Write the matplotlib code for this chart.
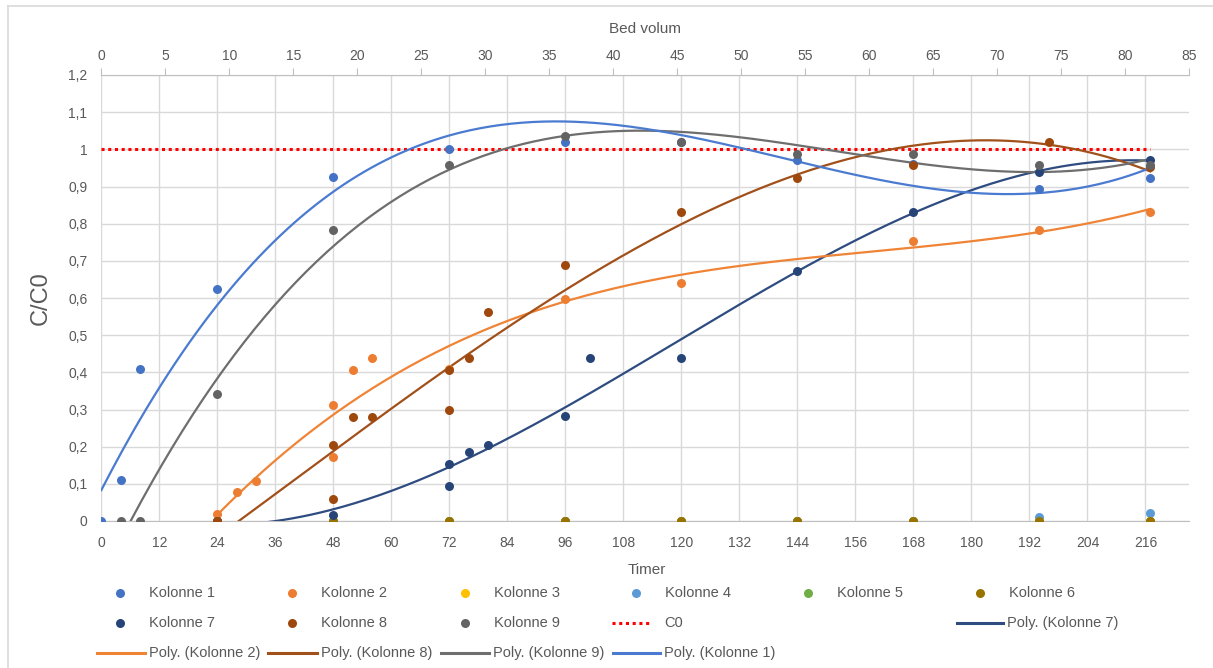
import numpy as np
import matplotlib.pyplot as plt
from matplotlib.lines import Line2D

# Gjennombrudd (C/C0) per kolonne mot tid i timer
k1_t = [0, 4, 8, 24, 48, 72, 96, 120, 144, 168, 194, 217]
k1_c = [0, 0.11, 0.41, 0.625, 0.925, 1.0, 1.02, 1.02, 0.97, 0.96, 0.892, 0.924]

k2_t = [24, 24, 28, 32, 48, 48, 52, 56, 72, 96, 120, 168, 194, 217]
k2_c = [0, 0.02, 0.077, 0.107, 0.172, 0.312, 0.407, 0.438, 0.41, 0.596, 0.64, 0.753, 0.784, 0.831]

zero_t = [24, 48, 72, 96, 120, 144, 168, 194, 217]
k3_c = [0, 0, 0, 0, 0, 0, 0, 0, 0]
k4_c = [0, 0, 0, 0, 0, 0, 0, 0.012, 0.021]
k5_c = [0, 0, 0, 0, 0, 0, 0, 0, 0]
k6_t = [48, 72, 96, 120, 144, 168, 194, 217]
k6_c = [0, 0, 0, 0, 0, 0, 0, 0]

k7_t = [24, 48, 72, 72, 76, 80, 96, 101, 120, 144, 168, 194, 217]
k7_c = [0, 0.015, 0.094, 0.154, 0.186, 0.204, 0.282, 0.438, 0.438, 0.673, 0.831, 0.939, 0.972]

k8_t = [24, 48, 48, 52, 56, 72, 72, 76, 80, 96, 120, 144, 168, 196, 217]
k8_c = [0, 0.058, 0.204, 0.281, 0.281, 0.298, 0.407, 0.438, 0.563, 0.69, 0.831, 0.924, 0.957, 1.02, 0.952]

k9_t = [4, 8, 24, 48, 72, 96, 120, 144, 168, 194, 217]
k9_c = [0, 0, 0.343, 0.784, 0.958, 1.036, 1.02, 0.988, 0.988, 0.959, 0.959]

c0_t = [0, 217]
c0_c = [1, 1]

x_ticks = list(range(0, 217, 12))
bv_ticks = list(range(0, 86, 5))
y_ticks = [round(v * 0.1, 1) for v in range(13)]

farger = {
    1: "#4472C4", 2: "#ED7D31", 3: "#FFC000", 4: "#5B9BD5", 5: "#70AD47",
    6: "#997300", 7: "#264478", 8: "#9E480E", 9: "#636363",
}
trend_farger = {1: "#4A7BD0", 2: "#EF8436", 7: "#2E4C80", 8: "#A2501A", 9: "#6E6E6E"}

W, H = 1213, 668
plt.rcParams["font.family"] = ["Liberation Sans", "DejaVu Sans"]
tekst = "#595959"
grid = "#D9D9D9"

fig = plt.figure(figsize=(W / 100, H / 100), dpi=100)
ax = fig.add_axes([101.3 / W, 1 - 521 / H, (1189 - 101.3) / W, (521 - 75) / H])

serier = [
    (1, k1_t, k1_c), (2, k2_t, k2_c), (3, zero_t, k3_c), (4, zero_t, k4_c),
    (5, zero_t, k5_c), (6, k6_t, k6_c), (7, k7_t, k7_c), (8, k8_t, k8_c), (9, k9_t, k9_c),
]
for nr, t, c in serier:
    ax.scatter(t, c, s=42, color=farger[nr], zorder=4, linewidths=0)

ax.plot(c0_t, c0_c, color="#FF0000", linestyle=(0, (1, 1.2)), linewidth=2.2, zorder=3)

# polynomtrender (3. grad) tilpasset hver serie
for nr, t, c in [(7, k7_t, k7_c), (2, k2_t, k2_c), (8, k8_t, k8_c), (9, k9_t, k9_c), (1, k1_t, k1_c)]:
    koef = np.polyfit(t, c, 3)
    xs = np.linspace(min(t), max(t), 300)
    ax.plot(xs, np.polyval(koef, xs), color=trend_farger[nr], linewidth=1.6, zorder=3)

ax.set_xlim(0, 225)
ax.set_ylim(0, 1.2)
ax.set_xticks(x_ticks)
ax.set_yticks(y_ticks)
ax.set_yticklabels([("%g" % v).replace(".", ",") for v in y_ticks])
ax.grid(True, color=grid, linewidth=1)
ax.set_axisbelow(True)
ax.tick_params(length=0, labelsize=10, colors=tekst)
ax.tick_params(axis="x", pad=11)
ax.tick_params(axis="y", pad=10)
for s in ["top", "right", "left"]:
    ax.spines[s].set_visible(False)
ax.spines["bottom"].set_color("#BFBFBF")

ax.set_ylabel("C/C0", fontsize=17, color=tekst, labelpad=12)

# sekundær x-akse i bed volum
ax2 = ax.twiny()
ax2.set_xlim(0, 85)
ax2.set_xticks(bv_ticks)
ax2.tick_params(axis="x", length=5, color="#BFBFBF", labelsize=10, labelcolor=tekst, pad=4)
for s in ["bottom", "right", "left"]:
    ax2.spines[s].set_visible(False)
ax2.spines["top"].set_color("#BFBFBF")

fig.text(645 / W, 1 - 29 / H, "Bed volum", ha="center", va="center", fontsize=11, color=tekst)
fig.text(647 / W, 1 - 570 / H, "Timer", ha="center", va="center", fontsize=11, color=tekst)


def fx(x):
    return x / W


def fy(y):
    return 1 - y / H


# tegnforklaring, plassert rad for rad
punkt_rad = [
    (1, 120, 593), (2, 292, 593), (3, 465, 593), (4, 636, 593), (5, 808, 593), (6, 980, 593),
    (7, 120, 623), (8, 292, 623), (9, 465, 623),
]
for nr, x, y in punkt_rad:
    fig.add_artist(Line2D([fx(x)], [fy(y)], marker="o", markersize=6.5, color=farger[nr],
                          markeredgewidth=0, transform=fig.transFigure))
    fig.text(fx(x + 29), fy(y), "Kolonne %d" % nr, ha="left", va="center", fontsize=10.5, color=tekst)

fig.add_artist(Line2D([fx(612), fx(652)], [fy(623), fy(623)], color="#FF0000",
                      linestyle=(0, (1, 1.2)), linewidth=2.2, transform=fig.transFigure))
fig.text(fx(664), fy(623), "C0", ha="left", va="center", fontsize=10.5, color=tekst)

linje_rad = [
    (7, 957, 1003, 623), (2, 97, 145, 653), (8, 268, 317, 653), (9, 441, 489, 653), (1, 613, 660, 653),
]
for nr, x0, x1, y in linje_rad:
    fig.add_artist(Line2D([fx(x0), fx(x1)], [fy(y), fy(y)], color=trend_farger[nr],
                          linewidth=2.2, transform=fig.transFigure))
    fig.text(fx(x1 + 4), fy(y), "Poly. (Kolonne %d)" % nr, ha="left", va="center",
             fontsize=10.5, color=tekst)

# diagramramme: bare topp- og venstrekant
fig.add_artist(Line2D([fx(8), fx(W)], [fy(5.5), fy(5.5)], color=grid, linewidth=1.2,
                      transform=fig.transFigure))
fig.add_artist(Line2D([fx(8), fx(8)], [fy(5.5), fy(H)], color=grid, linewidth=1.2,
                      transform=fig.transFigure))

fig.savefig("out.png", dpi=100)
